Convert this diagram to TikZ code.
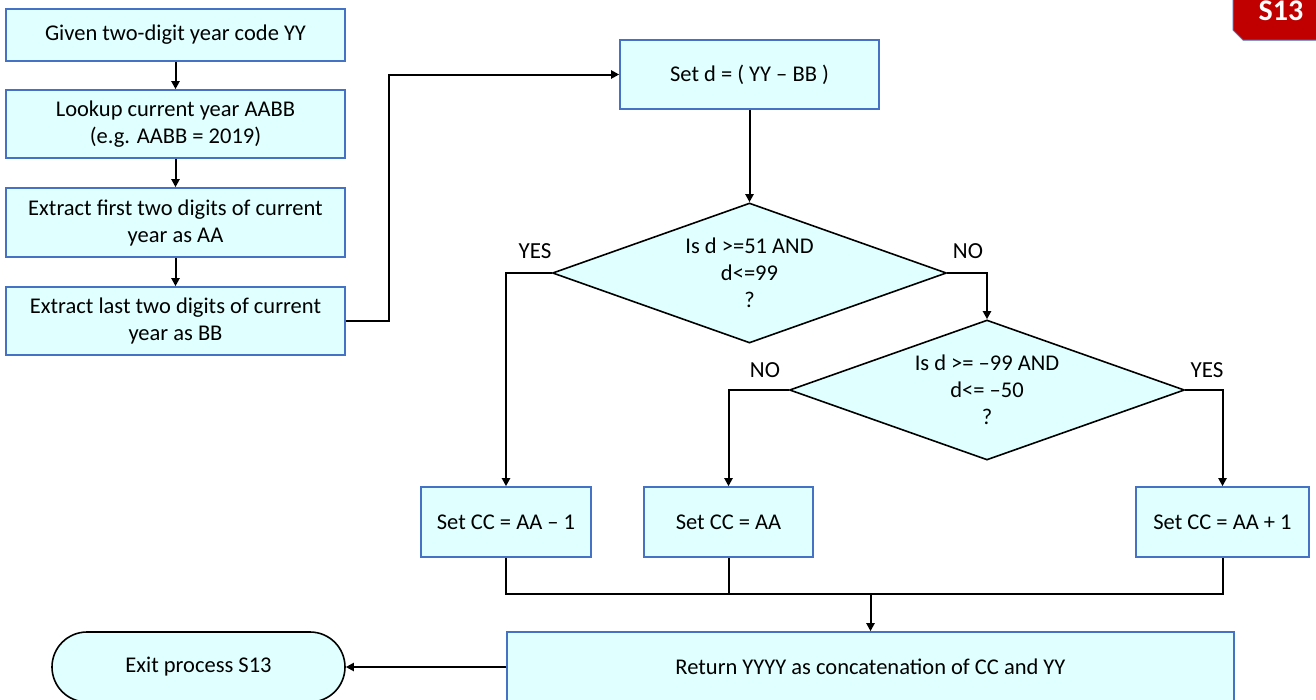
\documentclass[tikz,border=0pt]{standalone}
\usepackage{fontspec}
\setmainfont{Carlito}
\usetikzlibrary{shapes.geometric,arrows.meta}
\definecolor{boxfill}{RGB}{224,255,255}
\definecolor{boxline}{RGB}{68,114,196}
\definecolor{badgered}{RGB}{192,0,0}
\begin{document}
\begin{tikzpicture}[x=1pt,y=-1pt,
  every node/.style={font=\fontsize{22.5}{27}\selectfont},
  proc/.style={rectangle, draw=boxline, fill=boxfill, line width=1.6pt, align=center, inner sep=0pt},
  dec/.style={diamond, draw=black, fill=boxfill, line width=1.6pt, align=center, inner sep=0pt, aspect=2.8},
  term/.style={rectangle, rounded corners=35pt, draw=black, fill=boxfill, line width=1.6pt, align=center, inner sep=0pt},
  arr/.style={-{Triangle[length=8pt,width=8pt]}, line width=2pt},
  conn/.style={line width=2pt},
  lbl/.style={font=\fontsize{23}{27}\selectfont}]
\useasboundingbox (0,0) rectangle (1316,699);
\clip (0,0) rectangle (1316,699);

% left column
\node[proc, minimum width=339pt, minimum height=52pt] (b1) at (175.5,35) {Given two-digit year code YY};
\node[proc, minimum width=339pt, minimum height=68pt] (b2) at (175.5,124) {Lookup current year AABB\\(e.g. AABB = 2019)};
\node[proc, minimum width=339pt, minimum height=69pt] (b3) at (175.5,222.5) {Extract first two digits of current\\year as AA};
\node[proc, minimum width=339pt, minimum height=68pt] (b4) at (175.5,321) {Extract last two digits of current\\year as BB};

\node[proc, minimum width=259pt, minimum height=69pt] (setd) at (749.5,74.5) {Set d = ( YY – BB )};

\node[dec, minimum width=394pt, minimum height=140pt] (d1) at (749.5,273) {Is d >=51 AND\\d<=99\\?};
\node[dec, minimum width=395pt, minimum height=140pt] (d2) at (987,390) {Is d >= –99 AND\\d<= –50\\?};

\node[proc, minimum width=170pt, minimum height=70pt] (cc1) at (506,522) {Set CC = AA – 1};
\node[proc, minimum width=169pt, minimum height=70pt] (cc0) at (728.5,522) {Set CC = AA};
\node[proc, minimum width=173pt, minimum height=70pt] (cc2) at (1222.5,522) {Set CC = AA + 1};

\node[proc, minimum width=727pt, minimum height=70pt] (ret) at (870.5,667) {Return YYYY as concatenation of CC and YY};
\node[term, minimum width=293pt, minimum height=70pt] (exit) at (198.5,667) {Exit process S13};

% labels
\node[lbl] (yes1) at (535,251) {YES};
\node[lbl] (no1) at (968,251) {NO};
\node[lbl] (no2) at (765,370) {NO};
\node[lbl] (yes2) at (1207,370) {YES};

% connectors
\draw[arr] (b1) -- (b2);
\draw[arr] (b2) -- (b3);
\draw[arr] (b3) -- (b4);
\draw[arr] (b4.east) -- ++(43,0) |- (setd.west);
\draw[arr] (setd.south) -- (d1.north);
\draw[arr] (d1.west) -| (cc1.north);
\draw[arr] (d1.east) -| (d2.north);
\draw[arr] (d2.west) -| (cc0.north);
\draw[arr] (d2.east) -| (cc2.north);
\coordinate (m) at (870.5,594);
\draw[conn] (cc1.south) |- (cc2.south |- m) -- (cc2.south);
\draw[conn] (cc0.south) -- (cc0.south |- m);
\draw[arr] (m) -- (ret.north);
\draw[arr] (ret.west) -- (exit.east);

% badge
\fill[badgered] (1233,-2) -- (1318,-2) -- (1318,40) -- (1243,40) -- (1233,30) -- cycle;
\draw[boxline, line width=1pt] (1233,-2) -- (1233,30) -- (1243,40) -- (1318,40);
\node[text=white, font=\bfseries\fontsize{30}{30}\selectfont, anchor=base] (s13) at (1281,20) {S13};
\end{tikzpicture}
\end{document}
